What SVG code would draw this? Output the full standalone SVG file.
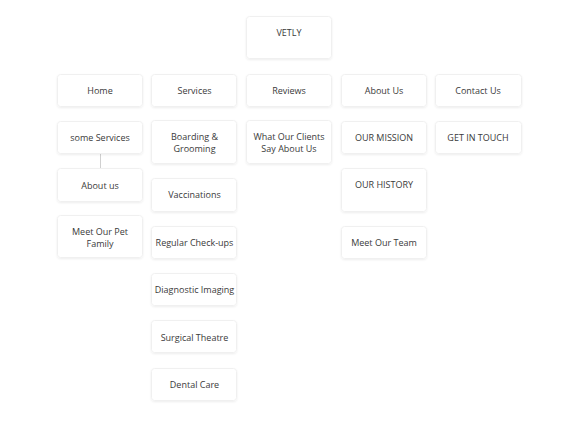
<svg xmlns="http://www.w3.org/2000/svg" width="585" height="427" viewBox="0 0 585 427">
<defs>
<filter id="sh" x="-10%" y="-10%" width="120%" height="130%">
<feDropShadow dx="0" dy="1" stdDeviation="0.8" flood-color="#000" flood-opacity="0.07"/>
</filter>
<style>
.box{fill:#ffffff;stroke:#f0f0f0;stroke-width:1;filter:url(#sh)}
.t{font-family:"Open Sans","Noto Sans","Liberation Sans",sans-serif;font-size:9px;fill:#3a3a3a;text-anchor:middle;dominant-baseline:central}
.c{stroke:#d0d0d0;stroke-width:1;fill:none}
</style>
</defs>
<rect width="585" height="427" fill="#ffffff"/>
<g id="connectors">
<line class="c" x1="100.5" y1="154" x2="100.5" y2="168"/>
</g>
<g id="vetly"><rect class="box" x="246.5" y="16.5" width="85" height="42" rx="3"/><text class="t" x="289" y="32">VETLY</text></g>
<g id="home"><rect class="box" x="57.5" y="74.5" width="85" height="32" rx="3"/><text class="t" x="100" y="90">Home</text></g>
<g id="services"><rect class="box" x="151.5" y="74.5" width="85" height="32" rx="3"/><text class="t" x="194.5" y="90">Services</text></g>
<g id="reviews"><rect class="box" x="246.5" y="74.5" width="85" height="32" rx="3"/><text class="t" x="289" y="90">Reviews</text></g>
<g id="about"><rect class="box" x="341.5" y="74.5" width="85" height="32" rx="3"/><text class="t" x="384" y="90">About Us</text></g>
<g id="contact"><rect class="box" x="435.5" y="74.5" width="86" height="32" rx="3"/><text class="t" x="478" y="90">Contact Us</text></g>
<g id="some-services"><rect class="box" x="57.5" y="121.5" width="85" height="32" rx="3"/><text class="t" x="100" y="137">some Services</text></g>
<g id="boarding"><rect class="box" x="151.5" y="120.5" width="85" height="43" rx="3"/><text class="t" x="194.5" y="136.5">Boarding &amp;</text><text class="t" x="194.5" y="148">Grooming</text></g>
<g id="clients"><rect class="box" x="246.5" y="120.5" width="85" height="43" rx="3"/><text class="t" x="289" y="136.5">What Our Clients</text><text class="t" x="289" y="148">Say About Us</text></g>
<g id="mission"><rect class="box" x="341.5" y="121.5" width="85" height="32" rx="3"/><text class="t" x="384" y="137">OUR MISSION</text></g>
<g id="touch"><rect class="box" x="435.5" y="121.5" width="86" height="32" rx="3"/><text class="t" x="478" y="137">GET IN TOUCH</text></g>
<g id="about-us"><rect class="box" x="57.5" y="168.5" width="85" height="33" rx="3"/><text class="t" x="100" y="185">About us</text></g>
<g id="vaccinations"><rect class="box" x="151.5" y="178.5" width="85" height="33" rx="3"/><text class="t" x="194.5" y="194">Vaccinations</text></g>
<g id="history"><rect class="box" x="341.5" y="168.5" width="85" height="43" rx="3"/><text class="t" x="384" y="184">OUR HISTORY</text></g>
<g id="pet-family"><rect class="box" x="57.5" y="215.5" width="85" height="42" rx="3"/><text class="t" x="100" y="231">Meet Our Pet</text><text class="t" x="100" y="243">Family</text></g>
<g id="checkups"><rect class="box" x="151.5" y="226.5" width="85" height="32" rx="3"/><text class="t" x="194.5" y="242">Regular Check-ups</text></g>
<g id="team"><rect class="box" x="341.5" y="226.5" width="85" height="32" rx="3"/><text class="t" x="384" y="242">Meet Our Team</text></g>
<g id="imaging"><rect class="box" x="151.5" y="273.5" width="85" height="32" rx="3"/><text class="t" x="194.5" y="289">Diagnostic Imaging</text></g>
<g id="surgical"><rect class="box" x="151.5" y="320.5" width="85" height="32" rx="3"/><text class="t" x="194.5" y="337">Surgical Theatre</text></g>
<g id="dental"><rect class="box" x="151.5" y="368.5" width="85" height="32" rx="3"/><text class="t" x="194.5" y="384">Dental Care</text></g>
</svg>
